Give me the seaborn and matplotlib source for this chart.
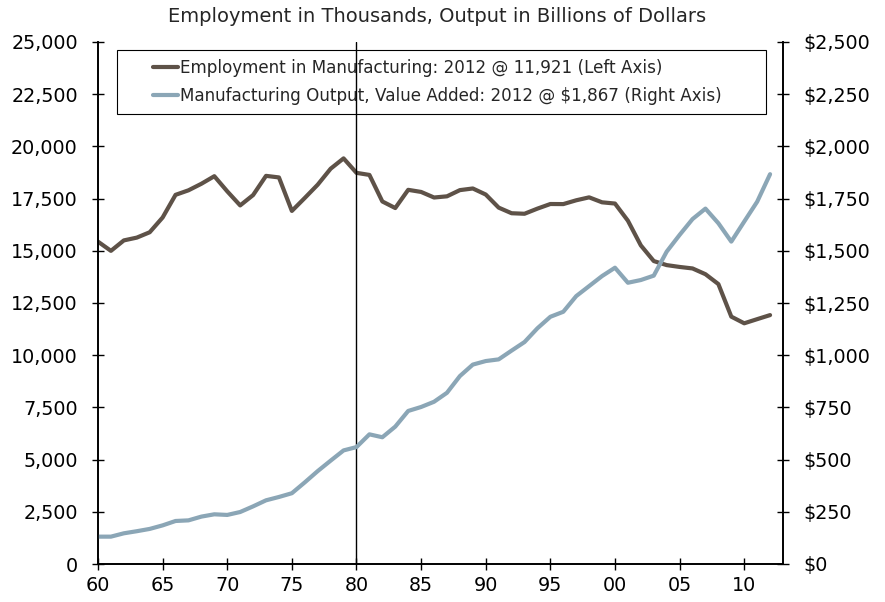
import pandas as pd
import seaborn as sns
import matplotlib.pyplot as plt
from matplotlib.patches import Rectangle
from matplotlib.ticker import FuncFormatter

years = list(range(1960, 2013))

employment = [15438, 14997, 15498, 15631, 15888, 16595, 17680, 17897, 18211, 18573,
              17848, 17174, 17669, 18589, 18514, 16909, 17531, 18167, 18932, 19426,
              18733, 18634, 17363, 17048, 17920, 17819, 17552, 17609, 17906, 17985,
              17695, 17068, 16799, 16774, 17020, 17241, 17237, 17419, 17560, 17322,
              17263, 16441, 15259, 14509, 14315, 14227, 14155, 13879, 13406, 11847,
              11528, 11726, 11921]

output = [131, 131, 147, 157, 168, 185, 206, 209, 227, 238,
          235, 249, 276, 305, 321, 339, 391, 445, 495, 544,
          560, 621, 607, 658, 733, 752, 777, 820, 900, 955,
          972, 980, 1022, 1063, 1129, 1184, 1208, 1283, 1331, 1379,
          1419, 1347, 1360, 1381, 1496, 1576, 1652, 1702, 1632, 1544,
          1640, 1735, 1867]

emp_label = "Employment in Manufacturing: 2012 @ 11,921 (Left Axis)"
out_label = "Manufacturing Output, Value Added: 2012 @ $1,867 (Right Axis)"
subtitle = "Employment in Thousands, Output in Billions of Dollars"

emp_color = "#5E5248"
out_color = "#8BA6B6"

df = pd.DataFrame({"year": years, "employment": employment, "output": output})

sns.set_style("white")
plt.rcParams["font.family"] = ["DejaVu Sans"]

fig = plt.figure(figsize=(8.85, 6.02), dpi=100)
ax = fig.add_axes([98 / 885, 38 / 602, 685 / 885, 522 / 602])
ax2 = ax.twinx()

sns.lineplot(data=df, x="year", y="employment", ax=ax, color=emp_color, lw=3, label=emp_label, legend=False)
sns.lineplot(data=df, x="year", y="output", ax=ax2, color=out_color, lw=3, label=out_label, legend=False)

ax.axvline(1980, color="black", lw=1)

ax.set_xlim(1960, 2013)
ax.set_ylim(0, 25000)
ax2.set_ylim(0, 2500)
ax.set_xticks(range(1960, 2011, 5))
ax.xaxis.set_major_formatter(FuncFormatter(lambda v, p: f"{int(v) % 100:02d}"))
ax.set_yticks(range(0, 25001, 2500))
ax.yaxis.set_major_formatter(FuncFormatter(lambda v, p: f"{int(v):,}"))
ax2.set_yticks(range(0, 2501, 250))
ax2.yaxis.set_major_formatter(FuncFormatter(lambda v, p: f"${int(v):,}"))

for a in (ax, ax2):
    a.set_xlabel("")
    a.set_ylabel("")
    a.spines["top"].set_visible(False)
    for s in ("left", "bottom", "right"):
        a.spines[s].set_color("black")
        a.spines[s].set_linewidth(1.2)
    a.tick_params(labelsize=13.8, colors="black", direction="inout", length=9, width=1)
ax.tick_params(axis="y", left=True, right=False)
ax.tick_params(axis="x", bottom=True, pad=4)
ax2.tick_params(axis="y", right=True, pad=10)
ax.tick_params(axis="y", pad=10)

# legend box drawn wider than the legend entries
ax.add_patch(Rectangle((19 / 685, 0.862), 649 / 685, 0.1227, transform=ax.transAxes,
                       fill=False, edgecolor="black", lw=0.8, zorder=5))
h1, l1 = ax.get_legend_handles_labels()
h2, l2 = ax2.get_legend_handles_labels()
ax2.legend(h1 + h2, l1 + l2, loc="upper left", bbox_to_anchor=(48 / 685, 0.980),
           frameon=False, fontsize=12.1, handlelength=1.5, handletextpad=0.12,
           labelspacing=0.6, borderaxespad=0)

fig.text(437 / 885, 1 - 17 / 602, subtitle, ha="center", va="center", fontsize=14)

fig.savefig("out.png", dpi=100)
